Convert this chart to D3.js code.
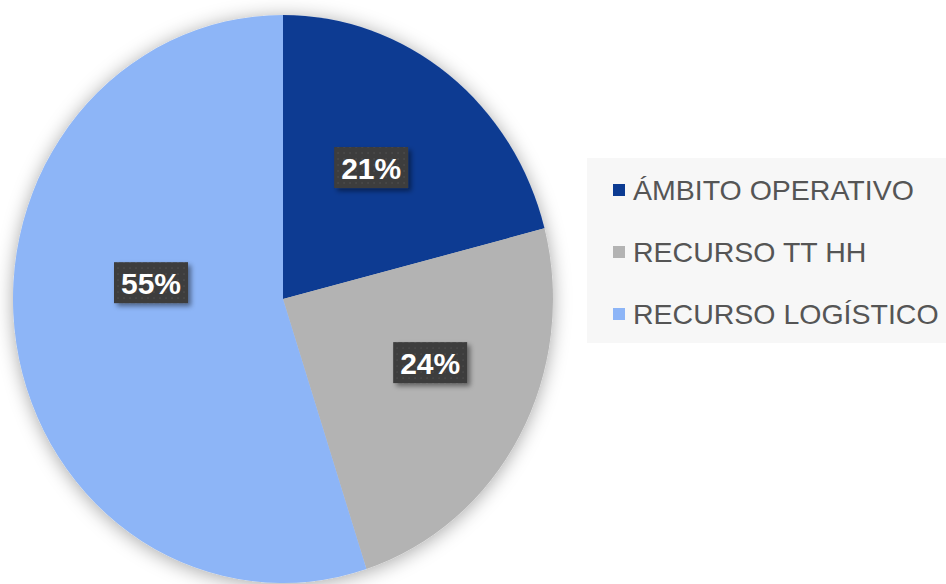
<!DOCTYPE html>
<html><head><meta charset="utf-8">
<script src="https://cdn.jsdelivr.net/npm/d3@7"></script>
<style>html,body{margin:0;padding:0;background:#fff;}svg{display:block;}</style>
</head><body>
<svg id="c" width="946" height="584"></svg>
<script>
const categories = ["ÁMBITO OPERATIVO", "RECURSO TT HH", "RECURSO LOGÍSTICO"];
const values = [21, 24, 55];
const labels = ["21%", "24%", "55%"];
const colors = ["#0c3b92", "#b3b3b3", "#8db5f7"];

const svg = d3.select("#c");
const W = 946, H = 584;
const cx = 283, cy = 299, rx = 270, ry = 284;
// label placement tweaks (Excel "best fit"): radius factor and angle shift (degrees)
const lblRad = [0.565, 0.59, 0.492];
const lblShift = [-2.5, -6.3, 15.5];

const defs = svg.append("defs");
const f = defs.append("filter").attr("id","pieShadow").attr("x","-20%").attr("y","-20%").attr("width","140%").attr("height","140%");
f.append("feDropShadow").attr("dx",0).attr("dy",2).attr("stdDeviation",9).attr("flood-color","#000").attr("flood-opacity",0.35);
const f2 = defs.append("filter").attr("id","lblShadow").attr("x","-30%").attr("y","-30%").attr("width","160%").attr("height","160%");
f2.append("feDropShadow").attr("dx",3).attr("dy",3).attr("stdDeviation",2.5).attr("flood-color","#000").attr("flood-opacity",0.45);
const pat = defs.append("pattern").attr("id","dots").attr("width",6).attr("height",6).attr("patternUnits","userSpaceOnUse");
pat.append("rect").attr("width",6).attr("height",6).attr("fill","#3c3c3c");
pat.append("circle").attr("cx",3).attr("cy",3).attr("r",0.9).attr("fill","#4a4a4a");

// legend background
svg.append("rect").attr("x",587).attr("y",158).attr("width",W-587).attr("height",185).attr("fill","#f7f7f7");

const pie = d3.pie().sort(null).value(d => d)(values);
const arc = d3.arc().innerRadius(0).outerRadius(rx);

const g = svg.append("g").attr("transform",`translate(${cx},${cy}) scale(1,${ry/rx})`);
const gg = g.append("g").attr("filter","url(#pieShadow)");
gg.selectAll("path").data(pie).join("path")
  .attr("d", arc)
  .attr("fill", (d,i) => colors[i]);

// labels
const lg = svg.append("g");
pie.forEach((d,i) => {
  const a = (d.startAngle + d.endAngle) / 2 + lblShift[i] * Math.PI / 180;
  const px = cx + Math.sin(a) * rx * lblRad[i];
  const py = cy - Math.cos(a) * ry * lblRad[i];
  const t = lg.append("g").attr("transform",`translate(${px},${py})`);
  t.append("rect").attr("x",-37).attr("y",-21).attr("width",74).attr("height",41)
    .attr("fill","url(#dots)").attr("filter","url(#lblShadow)");
  t.append("text").attr("text-anchor","middle").attr("dy","0.36em")
    .attr("font-family","Liberation Sans, Arial, sans-serif").attr("font-weight","bold")
    .attr("font-size",30).attr("fill","#fff").text(labels[i]);
});

// legend
const ly = d3.scalePoint().domain(categories).range([190, 314]);
const leg = svg.append("g");
categories.forEach((c,i) => {
  leg.append("rect").attr("x",613).attr("y",ly(c)-6).attr("width",12).attr("height",12).attr("fill",colors[i]);
  leg.append("text").attr("x",633).attr("y",ly(c)).attr("dy","0.36em")
    .attr("font-family","Liberation Sans, Arial, sans-serif").attr("font-size",28.5)
    .attr("fill","#555555").text(c);
});
</script>
</body></html>
